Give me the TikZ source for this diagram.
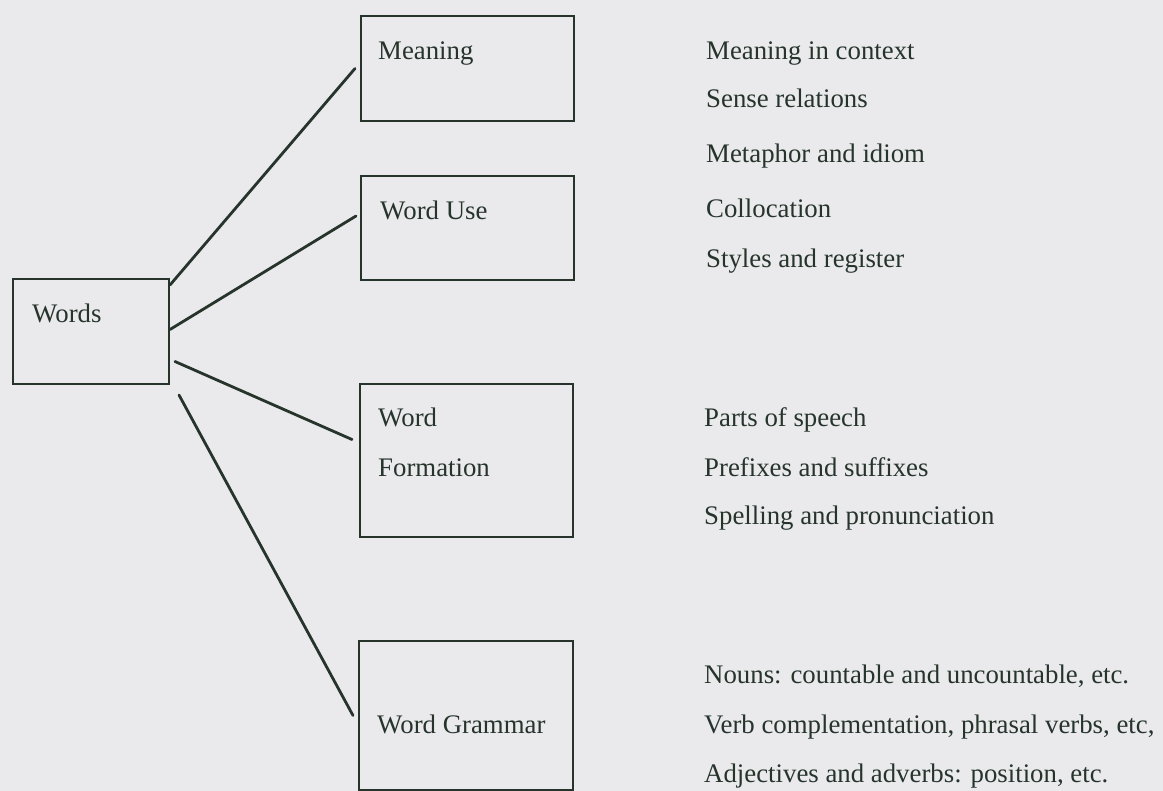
\documentclass[tikz,border=0pt]{standalone}
\usepackage{fontspec}
\setmainfont{Liberation Serif}
\usepackage{tikz}
\usetikzlibrary{positioning}

\definecolor{paper}{RGB}{234,234,236}
\definecolor{ink}{RGB}{38,52,44}

\tikzset{
 box/.style={draw=ink,line width=2pt,rectangle,inner sep=0pt,anchor=north west},
 lbl/.style={text=ink,inner sep=0pt,anchor=base west,font=\fontsize{26.8}{32}\selectfont},
 link/.style={draw=ink,line width=2.8pt,line cap=round}
}

\begin{document}
\begin{tikzpicture}[x=1pt,y=-1pt]
 \fill[paper](0,0) rectangle (1163,791);
 \useasboundingbox (0,0) rectangle (1163,791);

 % boxes
 \node[box,minimum width=156pt,minimum height=105pt] (words) at (12,278) {};
 \node[box,minimum width=213pt,minimum height=105pt] (meaning) at (360,15) {};
 \node[box,minimum width=213pt,minimum height=104pt] (worduse) at (360,175) {};
 \node[box,minimum width=213pt,minimum height=153pt] (formation) at (359,383) {};
 \node[box,minimum width=214pt,minimum height=149pt] (grammar) at (358,640) {};

 % box labels
 \node[lbl] (wordstxt) at (32,323) {Words};
 \node[lbl] (meaningtxt) at (378,60) {Meaning};
 \node[lbl] (wordusetxt) at (380,220) {Word Use};
 \node[lbl] (formationa) at (378,427) {Word};
 \node[lbl] (formationb) at (378,477) {Formation};
 \node[lbl] (grammartxt) at (377,733) {Word Grammar};

 % connectors
 \draw[link] ([yshift=-7pt]words.north east) -- ([xshift=-5pt]meaning.west);
 \draw[link] ([yshift=2pt]words.east) -- ([xshift=-4pt,yshift=12pt]worduse.west);
 \draw[link] ([xshift=5pt,yshift=-30pt]words.east) -- ([xshift=-7pt,yshift=21pt]formation.west);
 \draw[link] ([xshift=9pt,yshift=-10pt]words.south east) -- ([xshift=-5pt]grammar.west);

 % meaning
 \node[lbl] (m1) at (706,60) {Meaning in context};
 \node[lbl] (m2) at (706,108) {Sense relations};
 \node[lbl] (m3) at (706,163) {Metaphor and idiom};
 % word use
 \node[lbl] (u1) at (706,218) {Collocation};
 \node[lbl] (u2) at (706,268) {Styles and register};
 % word formation
 \node[lbl] (f1) at (704,427) {Parts of speech};
 \node[lbl] (f2) at (704,477) {Prefixes and suffixes};
 \node[lbl] (f3) at (704,525) {Spelling and pronunciation};
 % word grammar
 \node[lbl] (g1) at (704,683) {Nouns: countable and uncountable, etc.};
 \node[lbl] (g2) at (704,733) {Verb complementation, phrasal verbs, etc,};
 \node[lbl] (g3) at (704,782) {Adjectives and adverbs: position, etc.};
\end{tikzpicture}
\end{document}
